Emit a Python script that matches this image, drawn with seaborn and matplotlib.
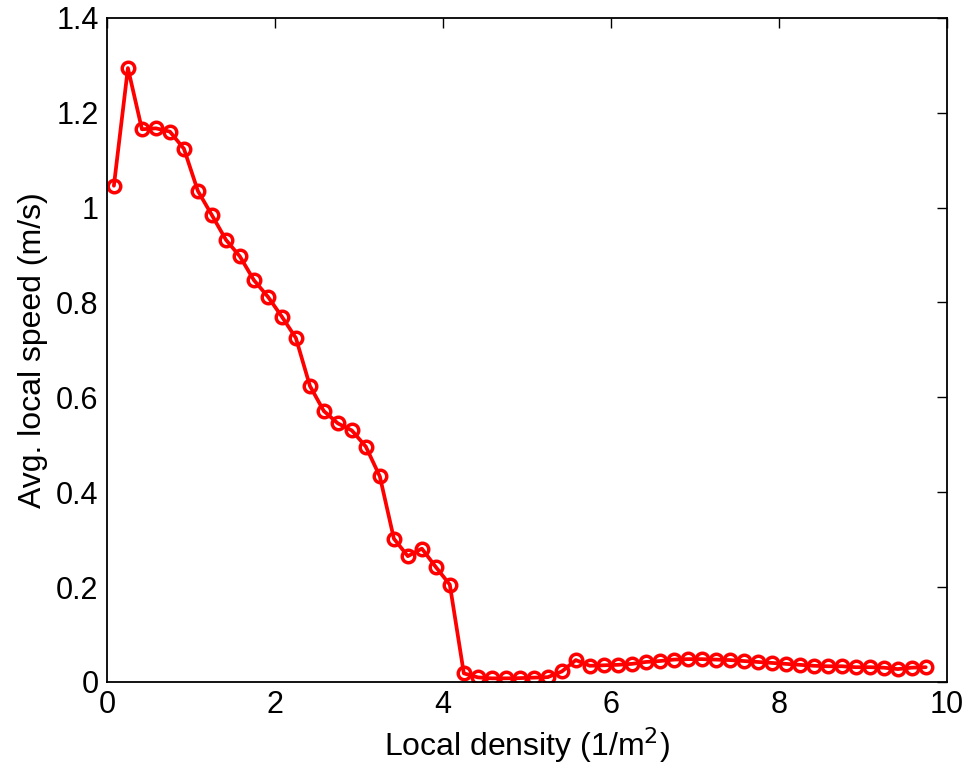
import numpy as np
import pandas as pd
import matplotlib
matplotlib.use("Agg")
import matplotlib.pyplot as plt
import seaborn as sns

density = [0.083, 0.25, 0.417, 0.583, 0.75, 0.917, 1.083, 1.25, 1.417, 1.583,
           1.75, 1.917, 2.083, 2.25, 2.417, 2.583, 2.75, 2.917, 3.083, 3.25,
           3.417, 3.583, 3.75, 3.917, 4.083, 4.25, 4.417, 4.583, 4.75, 4.917,
           5.083, 5.25, 5.417, 5.583, 5.75, 5.917, 6.083, 6.25, 6.417, 6.583,
           6.75, 6.917, 7.083, 7.25, 7.417, 7.583, 7.75, 7.917, 8.083, 8.25,
           8.417, 8.583, 8.75, 8.917, 9.083, 9.25, 9.417, 9.583, 9.75]
speed = [1.046, 1.294, 1.165, 1.167, 1.160, 1.124, 1.035, 0.984, 0.932, 0.897,
         0.847, 0.812, 0.770, 0.725, 0.624, 0.571, 0.545, 0.530, 0.496, 0.433,
         0.302, 0.265, 0.281, 0.242, 0.205, 0.018, 0.0095, 0.0075, 0.0075, 0.008,
         0.009, 0.010, 0.022, 0.046, 0.034, 0.035, 0.036, 0.038, 0.042, 0.044,
         0.047, 0.048, 0.048, 0.047, 0.046, 0.044, 0.042, 0.040, 0.038, 0.036,
         0.034, 0.033, 0.033, 0.031, 0.031, 0.030, 0.027, 0.030, 0.031]

xticks = [0, 2, 4, 6, 8, 10]
yticks = [0, 0.2, 0.4, 0.6, 0.8, 1.0, 1.2, 1.4]
ytick_labels = ["0", "0.2", "0.4", "0.6", "0.8", "1", "1.2", "1.4"]

df = pd.DataFrame({"density": density, "speed": speed})

sns.set_style("white")
plt.rcParams['font.family'] = ['Liberation Sans', 'DejaVu Sans']

fig = plt.figure(figsize=(9.72, 7.74), dpi=100)
ax = fig.add_axes([0.110, 0.119, 0.864, 0.858])

sns.lineplot(data=df, x="density", y="speed", ax=ax, color="#ff0000",
             linewidth=2.7, marker="o", markersize=9, markerfacecolor="none",
             markeredgecolor="#ff0000", markeredgewidth=2.5)

ax.set_xlim(0, 10)
ax.set_ylim(0, 1.4)
ax.set_xticks(xticks)
ax.set_xticklabels([str(t) for t in xticks])
ax.set_yticks(yticks)
ax.set_yticklabels(ytick_labels)
ax.tick_params(direction="in", length=7, width=1, top=True, right=True,
               labelsize=22, colors="black", pad=6)
for s in ax.spines.values():
    s.set_visible(True)
    s.set_color("black")
    s.set_linewidth(1.3)
ax.set_xlabel("Local density (1/m$^2$)", fontsize=23, labelpad=4, color="black")
ax.set_ylabel("Avg. local speed (m/s)", fontsize=23, labelpad=6, color="black")
ax.grid(False)

fig.savefig("out.png", dpi=100, facecolor="white")
